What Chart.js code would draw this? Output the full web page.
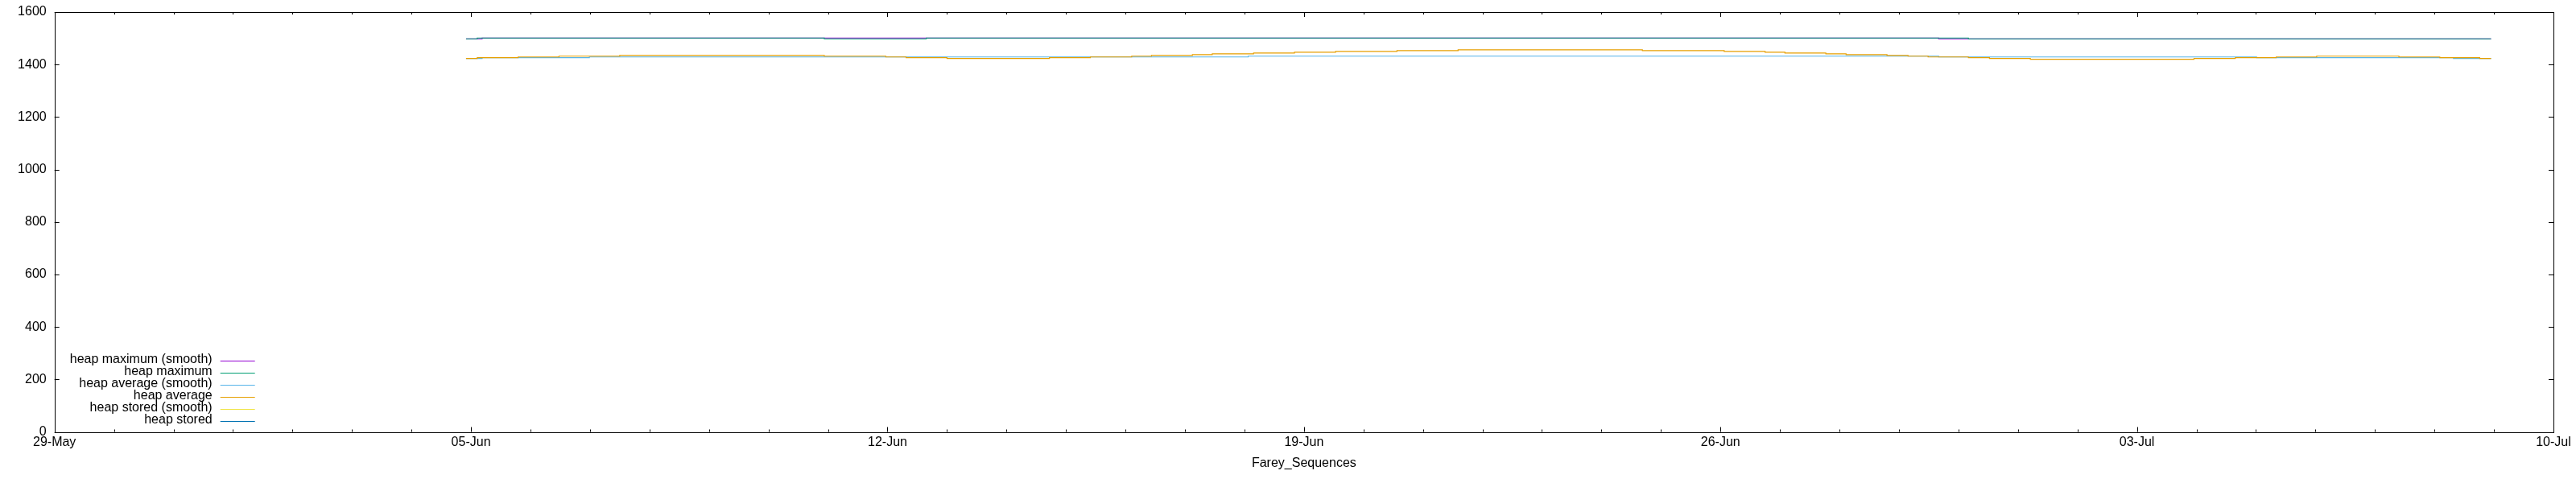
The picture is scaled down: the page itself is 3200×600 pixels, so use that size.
<!DOCTYPE html>
<html>
<head>
<meta charset="utf-8">
<script src="https://cdn.jsdelivr.net/npm/chart.js@4/dist/chart.umd.min.js"></script>
<style>
  html, body { margin: 0; padding: 0; background: #fff; }
  #wrap { width: 3200px; height: 600px; }
</style>
</head>
<body>
<div id="wrap"><canvas id="chart" width="3200" height="600"></canvas></div>
<script>
// change points of each step series (value holds until the next time)
const maxSmoothTimes = ["06-04 22:00", "06-05 04:30", "06-29 16:00", "07-08 22:50"];
const maxSmoothValues = [1498, 1501, 1498, 1498];

const maxTimes = ["06-04 22:00", "06-05 02:30", "06-10 22:30", "06-12 15:40", "06-30 04:00", "07-08 22:50"];
const maxValues = [1498, 1501, 1498, 1501, 1498, 1498];

const avgSmoothTimes = ["06-04 22:00", "06-05 04:30", "06-06 23:45", "06-18 01:30", "06-29 16:00", "07-05 00:15", "07-08 07:40", "07-08 22:50"];
const avgSmoothValues = [1423, 1426, 1429, 1432, 1429, 1426, 1423, 1423];

const avgTimes = [
  "06-04 22:00", "06-05 02:30", "06-05 19:00", "06-06 11:30", "06-07 12:00",
  "06-10 22:30", "06-11 23:20", "06-12 07:30", "06-13 00:00", "06-14 17:20",
  "06-15 09:50", "06-16 02:30", "06-16 10:30", "06-17 03:00", "06-17 11:00",
  "06-18 03:40", "06-18 20:10", "06-19 12:45", "06-20 13:30", "06-21 14:10",
  "06-24 16:30", "06-26 01:30", "06-26 18:00", "06-27 02:00", "06-27 18:30",
  "06-28 02:40", "06-28 19:10", "06-29 03:40", "06-29 11:45", "06-30 04:00",
  "06-30 12:30", "07-01 05:00", "07-03 23:00", "07-04 15:40", "07-05 08:10",
  "07-06 00:30", "07-07 09:40", "07-08 02:10", "07-08 18:15", "07-08 22:50"
];
const avgValues = [
  1423, 1426, 1429, 1432, 1435,
  1432, 1429, 1426, 1423, 1426,
  1429, 1432, 1435, 1438, 1441,
  1444, 1447, 1450, 1453, 1456,
  1453, 1450, 1447, 1444, 1441,
  1438, 1435, 1432, 1429, 1426,
  1423, 1420, 1423, 1426, 1429,
  1432, 1429, 1426, 1423, 1423
];

// not visible in the picture
const storedSmoothTimes = [];
const storedSmoothValues = [];
const storedTimes = [];
const storedValues = [];

const seriesNames = [
  "heap maximum (smooth)", "heap maximum", "heap average (smooth)",
  "heap average", "heap stored (smooth)", "heap stored"
];
const seriesColors = ["#9400d3", "#009e73", "#56b4e9", "#e69f00", "#f0e442", "#0072b2"];

const yTicks = [0, 200, 400, 600, 800, 1000, 1200, 1400, 1600];
const months = ["Jan", "Feb", "Mar", "Apr", "May", "Jun", "Jul", "Aug", "Sep", "Oct", "Nov", "Dec"];
const YEAR = 2016;
const DAY = 86400000;
const xStart = Date.UTC(YEAR, 4, 29);
const xEnd = Date.UTC(YEAR, 6, 10);

function parseTime(s) {
  const [md, hm] = s.split(" ");
  const [m, d] = md.split("-").map(Number);
  const [h, mi] = hm.split(":").map(Number);
  return Date.UTC(YEAR, m - 1, d, h, mi);
}

function toPoints(times, values) {
  return times.map((t, i) => ({ x: parseTime(t), y: values[i] }));
}

function fmtDay(v) {
  const d = new Date(v);
  return String(d.getUTCDate()).padStart(2, "0") + "-" + months[d.getUTCMonth()];
}

const allSeries = [
  toPoints(maxSmoothTimes, maxSmoothValues),
  toPoints(maxTimes, maxValues),
  toPoints(avgSmoothTimes, avgSmoothValues),
  toPoints(avgTimes, avgValues),
  toPoints(storedSmoothTimes, storedSmoothValues),
  toPoints(storedTimes, storedValues)
];

const FONT = "'Liberation Sans', Arial, sans-serif";

// gnuplot style frame, inward ticks and key
const framePlugin = {
  id: "frame",
  afterDatasetsDraw(chart) {
    const { ctx, chartArea: a } = chart;
    const xs = chart.scales.x, ys = chart.scales.y;
    ctx.save();
    ctx.strokeStyle = "#000";
    ctx.lineWidth = 1;
    ctx.beginPath();
    xs.ticks.forEach((t, i) => {
      const px = Math.round(xs.getPixelForValue(t.value)) + 0.5;
      const len = i % 7 === 0 ? 6 : 3;
      ctx.moveTo(px, a.bottom); ctx.lineTo(px, a.bottom - len);
      ctx.moveTo(px, a.top); ctx.lineTo(px, a.top + len);
    });
    ys.ticks.forEach((t) => {
      const py = Math.round(ys.getPixelForValue(t.value)) + 0.5;
      ctx.moveTo(a.left, py); ctx.lineTo(a.left + 6, py);
      ctx.moveTo(a.right, py); ctx.lineTo(a.right - 6, py);
    });
    ctx.stroke();
    ctx.strokeRect(Math.round(a.left) + 0.5, Math.round(a.top) + 0.5,
      Math.round(a.right - a.left), Math.round(a.bottom - a.top));

    // key
    ctx.font = "16px " + FONT;
    ctx.fillStyle = "#000";
    ctx.textAlign = "right";
    ctx.textBaseline = "middle";
    seriesNames.forEach((name, i) => {
      const y = a.bottom - 90 + i * 15.1;
      ctx.fillText(name, a.left + 196, y);
      ctx.strokeStyle = seriesColors[i];
      ctx.beginPath();
      ctx.moveTo(a.left + 206, Math.round(y + 1) + 0.5);
      ctx.lineTo(a.left + 249, Math.round(y + 1) + 0.5);
      ctx.stroke();
    });
    ctx.restore();
  }
};

new Chart(document.getElementById("chart"), {
  type: "line",
  data: {
    datasets: allSeries.map((pts, i) => ({
      label: seriesNames[i],
      data: pts,
      borderColor: seriesColors[i],
      backgroundColor: seriesColors[i],
      borderWidth: 1.2,
      pointRadius: 0,
      stepped: true,
      fill: false,
      order: seriesNames.length - i
    }))
  },
  options: {
    responsive: false,
    animation: false,
    events: [],
    layout: { padding: { left: 12.1, right: 28, top: 15, bottom: 11.1 } },
    plugins: { legend: { display: false }, tooltip: { enabled: false } },
    scales: {
      x: {
        type: "linear",
        min: xStart,
        max: xEnd,
        afterBuildTicks(scale) {
          const ticks = [];
          for (let v = xStart; v <= xEnd; v += DAY) ticks.push({ value: v });
          scale.ticks = ticks;
        },
        grid: { display: false, drawTicks: false },
        border: { display: false },
        ticks: {
          autoSkip: false,
          maxRotation: 0,
          padding: 3,
          color: "#000",
          font: { family: FONT, size: 16 },
          callback: (v, i) => (i % 7 === 0 ? fmtDay(v) : "")
        },
        title: {
          display: true,
          text: "Farey_Sequences",
          color: "#000",
          font: { family: FONT, size: 16 },
          padding: { top: 4, bottom: 4 }
        }
      },
      y: {
        min: 0,
        max: 1600,
        afterBuildTicks(scale) {
          scale.ticks = yTicks.map((v) => ({ value: v }));
        },
        afterFit(scale) {
          scale.paddingTop = 0;
          scale.paddingBottom = 0;
        },
        grid: { display: false, drawTicks: false },
        border: { display: false },
        ticks: {
          padding: 10,
          color: "#000",
          font: { family: FONT, size: 16 },
          callback: (v) => String(v)
        }
      }
    }
  },
  plugins: [framePlugin]
});
</script>
</body>
</html>
